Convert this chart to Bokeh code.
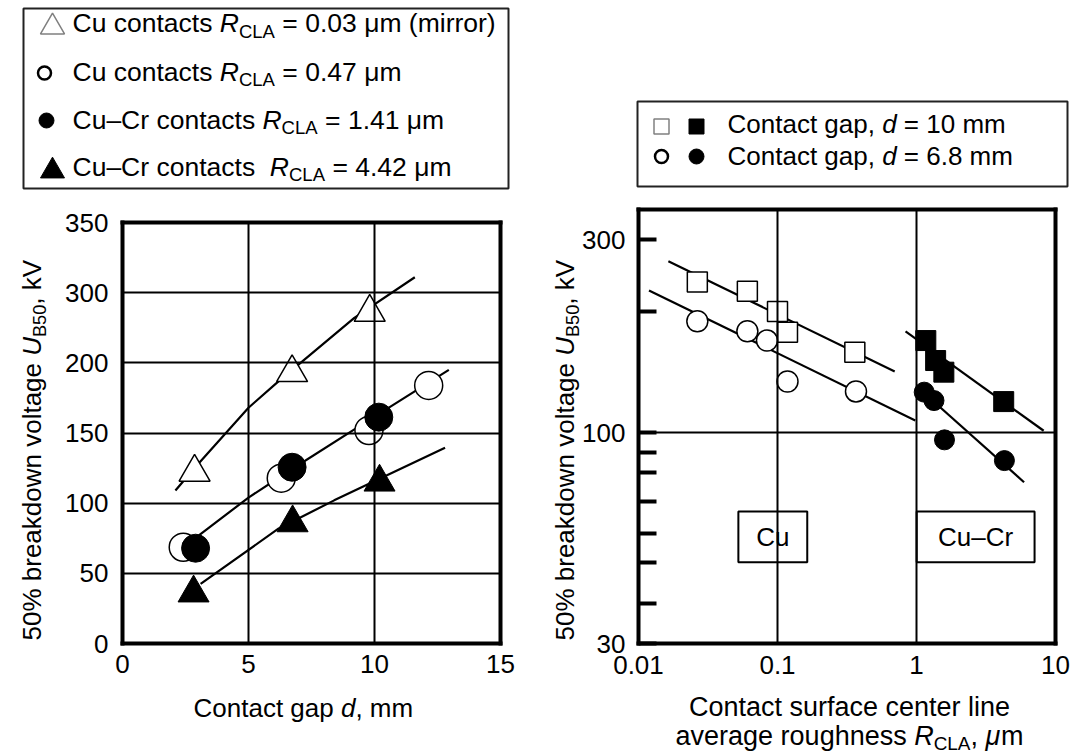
from math import pi, log10
from bokeh.plotting import figure
from bokeh.models import (Label, FixedTicker, Range1d, CustomJSTickFormatter, LinearAxis,
                          LogAxis, LogScale)
from bokeh.embed import file_html
from bokeh.resources import INLINE
from bokeh.core.properties import value

FONT = "Liberation Sans"

# ---------------- data : left panel (U_B50 vs contact gap) ----------------
# y values are in axis-position units (axis is labelled 0,50,100,150,200,300,350)
gap_tri_open = [2.86, 6.73, 9.81]
u_tri_open = [122, 193, 236]
gap_circ_open = [2.41, 6.30, 9.78, 12.15]
u_circ_open = [68.6, 117.8, 151.8, 183.9]
gap_circ_fill = [2.90, 6.73, 10.17]
u_circ_fill = [67.9, 125.6, 161.3]
gap_tri_fill = [2.82, 6.75, 10.20]
u_tri_fill = [36, 86, 115]

fit_tri_open_x = [2.1, 2.86, 5.0, 6.2, 9.2, 11.6]
fit_tri_open_y = [109, 125, 168, 187, 232, 261]
fit_circ_x = [3.03, 5.0, 6.7, 9.5, 12.95]
fit_circ_y = [77, 104, 124, 156, 195]
fit_tri_fill_x = [3.1, 6.2, 8.4, 12.8]
fit_tri_fill_y = [42.5, 82, 102, 139.5]

left_x_ticks = [0, 5, 10, 15]
left_y_ticks = [0, 50, 100, 150, 200, 250, 300]
left_y_labels = ["0", "50", "100", "150", "200", "300", "350"]

# ---------------- data : right panel (U_B50 vs roughness) ----------------
r_sq_open = [0.0265, 0.0607, 0.100, 0.118, 0.36]
u_sq_open = [236, 224, 199.5, 177.3, 158]
r_circ_open = [0.0265, 0.0607, 0.084, 0.118, 0.367]
u_circ_open_r = [188.7, 178.2, 169, 133.8, 126.4]
r_sq_fill = [1.167, 1.373, 1.573, 4.24]
u_sq_fill = [169, 150.8, 141.1, 119.3]
r_circ_fill = [1.136, 1.336, 1.59, 4.29]
u_circ_fill_r = [125.9, 120, 95.9, 85.2]

fit_cu10_x = [0.0164, 0.697]
fit_cu10_y = [265.8, 141.6]
fit_cu68_x = [0.0119, 0.98]
fit_cu68_y = [225, 107.1]
fit_cucr10_x = [0.834, 8.22]
fit_cucr10_y = [178, 101]
fit_cucr68_x = [1.02, 5.94]
fit_cucr68_y = [129.5, 75.3]

right_x_ticks = [0.01, 0.1, 1, 10]
right_x_grid = [0.1, 1]
right_y_major = [30, 100, 300]
right_y_minor = [37.7, 47.6, 56.2, 67.5, 79.6, 89.2, 200]
right_y_grid = [100]

box_labels = ["Cu", "Cu\u2013Cr"]
box_left = [0.0523, 1.003]
box_right = [0.1637, 7.07]
box_bottom = [47.7, 47.7]
box_top = [63.7, 63.7]

legend_left_rows = [
    [("Cu contacts ", "n"), ("R", "i"), ("CLA", "s"), (" = 0.03 \u03bcm (mirror)", "n")],
    [("Cu contacts ", "n"), ("R", "i"), ("CLA", "s"), (" = 0.47 \u03bcm", "n")],
    [("Cu\u2013Cr contacts ", "n"), ("R", "i"), ("CLA", "s"), (" = 1.41 \u03bcm", "n")],
    [("Cu\u2013Cr contacts  ", "n"), ("R", "i"), ("CLA", "s"), (" = 4.42 \u03bcm", "n")],
]
legend_right_rows = [
    [("Contact gap, ", "n"), ("d", "i"), (" = 10 mm", "n")],
    [("Contact gap, ", "n"), ("d", "i"), (" = 6.8 mm", "n")],
]
ylabel_pieces = [("50% breakdown voltage ", "n"), ("U", "i"), ("B50", "s"), (", kV", "n")]
xlabel_left_pieces = [("Contact gap ", "n"), ("d", "i"), (", mm", "n")]
xlabel_right_line1 = [("Contact surface center line", "n")]
xlabel_right_line2 = [("average roughness ", "n"), ("R", "i"), ("CLA", "s"), (", ", "n"),
                      ("\u03bc", "i"), ("m", "n")]

# ---------------- text metrics (Arial / Liberation Sans advance widths) ----------------
AW = {' ': 278, '%': 889, '(': 333, ')': 333, ',': 278, '-': 333, '.': 278, '=': 584,
      'A': 667, 'B': 667, 'C': 722, 'L': 556, 'R': 722, 'U': 722, 'V': 667,
      'a': 556, 'b': 556, 'c': 500, 'd': 556, 'e': 556, 'f': 278, 'g': 556, 'h': 556,
      'i': 222, 'k': 500, 'l': 222, 'm': 833, 'n': 556, 'o': 556, 'p': 556, 'r': 333,
      's': 500, 't': 278, 'u': 556, 'v': 500, 'w': 722, 'y': 500, '\u2013': 556, '\u03bc': 576}


def tw(s, fs):
    return sum(AW.get(c, 556) for c in s) / 1000.0 * fs


FS = 26
FS_LEG = 26.5
FS_RX = 27
SUB = 0.7
MID = 0.36   # distance from the box middle to the baseline, in em

# ---------------- canvas: one figure whose frame is the whole page ----------------
W, H = 1070, 756
p = figure(width=W, height=H, x_range=Range1d(0, W), y_range=Range1d(H, 0), min_border=0,
           x_axis_location=None, y_axis_location=None, toolbar_location=None,
           output_backend="svg")
p.grid.visible = False
p.outline_line_color = None
p.background_fill_color = "white"
p.border_fill_color = "white"

# frame geometry in page pixels
L_FL, L_FR, L_FT, L_FB = 122, 500, 222, 643
R_FL, R_FR, R_FT, R_FB = 638, 1055, 209, 643
R_XMIN, R_XMAX, R_YMIN, R_YMAX = 0.01, 10.0, 30.0, 357.0
L_XMIN, L_XMAX, L_YMIN, L_YMAX = 0.0, 15.0, 0.0, 300.0


def lin_x(v0, v1, p0, p1):
    k = (v1 - v0) / (p1 - p0)
    return Range1d(v0 + (0 - p0) * k, v0 + (W - p0) * k)


def lin_y(v0, v1, p0, p1):
    k = (v1 - v0) / (p1 - p0)
    return Range1d(v0 + (H - p0) * k, v0 + (0 - p0) * k)


def log_x(v0, v1, p0, p1):
    r = lin_x(log10(v0), log10(v1), p0, p1)
    return Range1d(10 ** r.start, 10 ** r.end)


def log_y(v0, v1, p0, p1):
    r = lin_y(log10(v0), log10(v1), p0, p1)
    return Range1d(10 ** r.start, 10 ** r.end)


p.extra_x_ranges = {"gap": lin_x(L_XMIN, L_XMAX, L_FL, L_FR),
                    "rough": log_x(R_XMIN, R_XMAX, R_FL, R_FR)}
p.extra_y_ranges = {"uL": lin_y(L_YMIN, L_YMAX, L_FB, L_FT),
                    "uR": log_y(R_YMIN, R_YMAX, R_FB, R_FT)}
p.extra_x_scales = {"rough": LogScale()}
p.extra_y_scales = {"uR": LogScale()}

NOLABEL = CustomJSTickFormatter(code="return '';")
PLAIN = CustomJSTickFormatter(code="return tick.toString();")


def add_axis(cls, side, xr, yr, fixed, bounds, ticks, minor=(), tick_in=0, tick_w=2,
             minor_in=0, formatter=None, standoff=12):
    ax = cls(x_range_name=xr, y_range_name=yr, fixed_location=fixed, bounds=bounds,
             ticker=FixedTicker(ticks=list(ticks), minor_ticks=list(minor)))
    ax.axis_line_color = "black"
    ax.axis_line_width = 4
    ax.axis_line_cap = "square"
    ax.major_tick_out = 0
    ax.major_tick_in = tick_in
    ax.major_tick_line_width = tick_w
    ax.major_tick_line_color = "black" if tick_in else None
    ax.minor_tick_out = 0
    ax.minor_tick_in = minor_in
    ax.minor_tick_line_width = 4
    ax.minor_tick_line_color = "black" if minor_in else None
    ax.formatter = formatter if formatter is not None else NOLABEL
    ax.major_label_text_font = FONT
    ax.major_label_text_font_size = f"{FS}px"
    ax.major_label_text_color = "black"
    ax.major_label_standoff = standoff
    p.add_layout(ax, side)
    return ax


# ---- left panel axes (tick lines reach across the frame as the grid) ----
add_axis(LinearAxis, "below", "gap", "uL", L_YMIN, (L_XMIN, L_XMAX), left_x_ticks,
         tick_in=L_FB - L_FT, formatter=PLAIN, standoff=11)
add_axis(LinearAxis, "left", "gap", "uL", L_XMIN, (L_YMIN, L_YMAX), left_y_ticks,
         tick_in=L_FR - L_FL, standoff=14,
         formatter=CustomJSTickFormatter(args=dict(tvals=left_y_ticks, tlabels=left_y_labels),
                                         code="const i = tvals.indexOf(tick); return i >= 0 ? tlabels[i] : '';"))
add_axis(LinearAxis, "above", "gap", "uL", L_YMAX, (L_XMIN, L_XMAX), [])
add_axis(LinearAxis, "right", "gap", "uL", L_XMAX, (L_YMIN, L_YMAX), [])

# ---- right panel axes ----
add_axis(LogAxis, "below", "rough", "uR", R_YMIN, (R_XMIN, R_XMAX), right_x_ticks,
         tick_in=0, formatter=PLAIN, standoff=12)
add_axis(LogAxis, "above", "rough", "uR", R_YMAX, (R_XMIN, R_XMAX), right_x_grid,
         tick_in=R_FB - R_FT)
add_axis(LogAxis, "left", "rough", "uR", R_XMIN, (R_YMIN, R_YMAX), right_y_major,
         minor=right_y_minor, tick_in=18, tick_w=4, minor_in=18, formatter=PLAIN, standoff=13)
add_axis(LogAxis, "right", "rough", "uR", R_XMAX, (R_YMIN, R_YMAX), right_y_grid,
         tick_in=R_FR - R_FL)

# ---- left panel marks ----
LK = dict(x_range_name="gap", y_range_name="uL")
for xs, ys in [(fit_tri_open_x, fit_tri_open_y), (fit_circ_x, fit_circ_y),
               (fit_tri_fill_x, fit_tri_fill_y)]:
    p.line(xs, ys, line_color="black", line_width=2.2, **LK)
p.scatter(gap_tri_open, u_tri_open, marker="triangle", size=31, fill_color="white",
          line_color="black", line_width=1.5, **LK)
p.scatter(gap_circ_open, u_circ_open, marker="circle", size=28, fill_color="white",
          line_color="black", line_width=1.5, **LK)
p.scatter(gap_circ_fill, u_circ_fill, marker="circle", size=28, fill_color="black",
          line_color="black", **LK)
p.scatter(gap_tri_fill, u_tri_fill, marker="triangle", size=31, fill_color="black",
          line_color="black", **LK)

# ---- right panel marks ----
RK = dict(x_range_name="rough", y_range_name="uR")
p.quad(left=box_left, right=box_right, bottom=box_bottom, top=box_top,
       fill_color="white", line_color="black", line_width=2, **RK)
p.text(x=[(a * b) ** 0.5 for a, b in zip(box_left, box_right)],
       y=[(a * b) ** 0.5 for a, b in zip(box_bottom, box_top)],
       text=box_labels, text_font=value(FONT), text_font_size=f"{FS}px",
       text_align="center", text_baseline="middle", text_color="black", **RK)
for xs, ys in [(fit_cu10_x, fit_cu10_y), (fit_cu68_x, fit_cu68_y),
               (fit_cucr10_x, fit_cucr10_y), (fit_cucr68_x, fit_cucr68_y)]:
    p.line(xs, ys, line_color="black", line_width=2.2, **RK)
p.scatter(r_sq_open, u_sq_open, marker="square", size=20, fill_color="white",
          line_color="black", line_width=1.5, **RK)
p.scatter(r_circ_open, u_circ_open_r, marker="circle", size=21, fill_color="white",
          line_color="black", line_width=1.5, **RK)
p.scatter(r_sq_fill, u_sq_fill, marker="square", size=20, fill_color="black",
          line_color="black", **RK)
p.scatter(r_circ_fill, u_circ_fill_r, marker="circle", size=20, fill_color="black",
          line_color="black", **RK)


# ---------------- rich text (page-pixel baseline positions) ----------------
def pieces_width(pieces, fs=FS):
    return sum(tw(t, fs * SUB if st == "s" else fs) for t, st in pieces)


def rich_text(px, py, pieces, fs=FS, vertical=False):
    pos = 0.0
    for txt, st in pieces:
        size = fs * SUB if st == "s" else fs
        shift = fs * 0.19 if st == "s" else 0.0
        core = txt.strip(" ")
        lead = tw(txt[:len(txt) - len(txt.lstrip(" "))], size)
        along = pos + lead
        if core:
            if vertical:
                X, Y = px + shift - MID * size, py - along
            else:
                X, Y = px + along, py + shift - MID * size
            p.add_layout(Label(x=X, y=Y, text=core, text_font=FONT,
                               text_font_size=f"{size:.1f}px",
                               text_font_style="italic" if st == "i" else "normal",
                               text_color="black", text_align="left",
                               text_baseline="middle",
                               angle=pi / 2 if vertical else 0))
        pos += tw(txt, size)


rich_text(41, 640, ylabel_pieces, vertical=True)
rich_text(193, 717, xlabel_left_pieces)
rich_text(574, 640, ylabel_pieces, vertical=True)
CX = 849
rich_text(CX - pieces_width(xlabel_right_line1, FS_RX) / 2, 716, xlabel_right_line1, fs=FS_RX)
rich_text(CX - pieces_width(xlabel_right_line2, FS_RX) / 2, 745, xlabel_right_line2, fs=FS_RX)

# ---------------- legends ----------------
p.quad(left=[23], right=[508], top=[8], bottom=[188], fill_color="white",
       line_color="#222222", line_width=2)
base_L = [32.5, 81, 129, 176]
mk = [("triangle", "white", "#808080", 1.5, 24, 52, -6),
      ("circle", "white", "black", 2.5, 13, 44, -8.5),
      ("circle", "black", "black", 1, 15, 46, -9),
      ("triangle", "black", "black", 1, 24, 52, -5.5)]
for (m, fc, lc, lw, sz, mx, dy), b, pcs in zip(mk, base_L, legend_left_rows):
    p.scatter([mx], [b + dy], marker=m, size=sz, fill_color=fc, line_color=lc, line_width=lw)
    rich_text(72, b, pcs, fs=FS_LEG)

p.quad(left=[637], right=[1067], top=[101], bottom=[186], fill_color="white",
       line_color="#222222", line_width=2)
base_R = [133, 165]
mkR = [[("square", "white", "#808080", 1.5, 15, 661, -7), ("square", "black", "black", 1, 15, 696, -7)],
       [("circle", "white", "black", 2.5, 13, 661, -9), ("circle", "black", "black", 1, 15, 696, -9)]]
for mks, b, pcs in zip(mkR, base_R, legend_right_rows):
    for (m, fc, lc, lw, sz, mx, dy) in mks:
        p.scatter([mx], [b + dy], marker=m, size=sz, fill_color=fc, line_color=lc, line_width=lw)
    rich_text(727, b, pcs)

open("out.html", "w").write(file_html(p, INLINE))
